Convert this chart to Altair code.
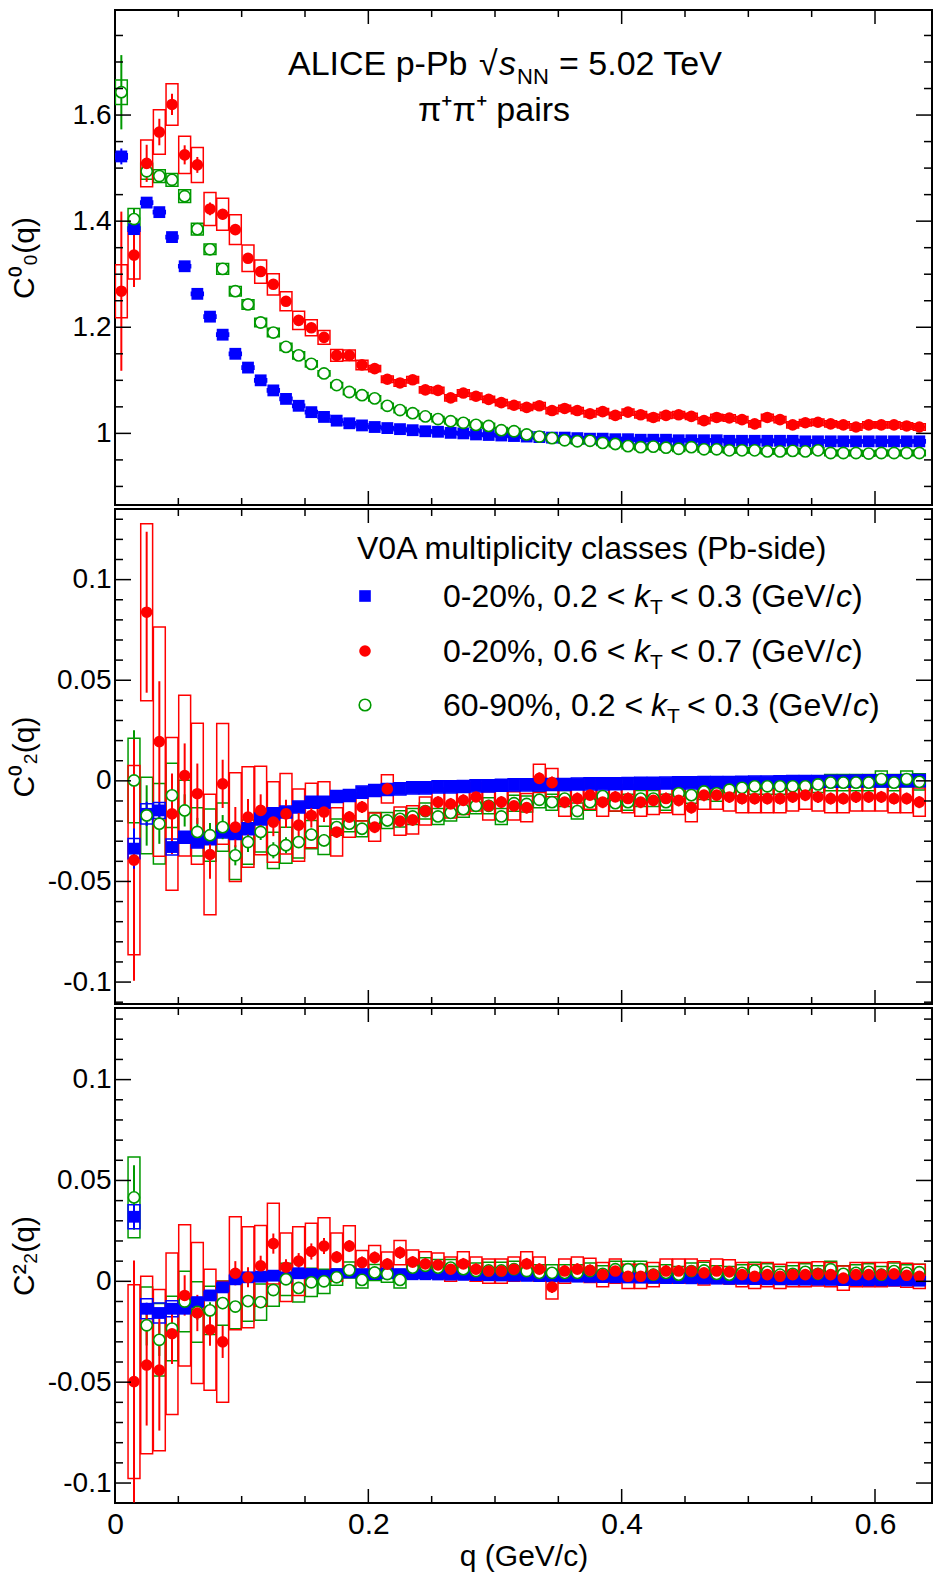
import pandas as pd
import altair as alt

# bin centres (GeV/c); panel 1 starts one bin earlier than panels 2 and 3
Q_ALL = [round(0.005 + 0.01 * k, 3) for k in range(64)]
Q_HI = Q_ALL[1:]

# ---- C00(q) ----
P1_BLUE = [1.522, 1.385, 1.435, 1.417, 1.370, 1.315, 1.263, 1.220, 1.186, 1.150,
           1.124, 1.100, 1.081, 1.065, 1.052, 1.040, 1.031, 1.024, 1.019, 1.015,
           1.012, 1.010, 1.008, 1.006, 1.004, 1.003, 1.001, 1.000, 0.998, 0.997,
           0.996, 0.995, 0.994, 0.993, 0.992, 0.992, 0.991, 0.990, 0.990, 0.989,
           0.989, 0.988, 0.988, 0.988, 0.987, 0.987, 0.987, 0.987, 0.986, 0.986,
           0.986, 0.986, 0.986, 0.986, 0.985, 0.985, 0.985, 0.985, 0.985, 0.985,
           0.985, 0.985, 0.985, 0.985]
P1_RED = [1.268, 1.336, 1.509, 1.568, 1.620, 1.525, 1.506, 1.423, 1.413, 1.384,
          1.330, 1.305, 1.281, 1.249, 1.213, 1.199, 1.181, 1.147, 1.147, 1.129,
          1.122, 1.102, 1.095, 1.101, 1.082, 1.081, 1.067, 1.076, 1.070, 1.064,
          1.058, 1.053, 1.049, 1.052, 1.043, 1.047, 1.043, 1.037, 1.041, 1.034,
          1.040, 1.035, 1.030, 1.034, 1.035, 1.032, 1.024, 1.030, 1.029, 1.026,
          1.018, 1.030, 1.026, 1.016, 1.020, 1.021, 1.018, 1.016, 1.012, 1.016,
          1.016, 1.016, 1.014, 1.012]
P1_GREEN = [1.643, 1.404, 1.494, 1.485, 1.478, 1.447, 1.385, 1.347, 1.310, 1.268,
            1.243, 1.209, 1.190, 1.163, 1.147, 1.131, 1.113, 1.091, 1.078, 1.072,
            1.066, 1.052, 1.044, 1.038, 1.032, 1.027, 1.023, 1.020, 1.016, 1.014,
            1.006, 1.004, 0.998, 0.994, 0.991, 0.987, 0.985, 0.986, 0.982, 0.980,
            0.976, 0.974, 0.975, 0.973, 0.971, 0.974, 0.970, 0.970, 0.968, 0.968,
            0.968, 0.966, 0.966, 0.967, 0.966, 0.968, 0.963, 0.963, 0.963, 0.962,
            0.963, 0.963, 0.963, 0.963]

# ---- C02(q) ----
P2_BLUE = [-0.0337, -0.0164, -0.0147, -0.0329, -0.0280, -0.0304, -0.0287, -0.0254, -0.0262, -0.0238,
           -0.0190, -0.0164, -0.0155, -0.0130, -0.0106, -0.0106, -0.0078, -0.0073, -0.0056, -0.0048,
           -0.0043, -0.0040, -0.0035, -0.0035, -0.0030, -0.0030, -0.0028, -0.0025, -0.0025, -0.0022,
           -0.0020, -0.0020, -0.0020, -0.0018, -0.0018, -0.0016, -0.0015, -0.0015, -0.0014, -0.0013,
           -0.0012, -0.0012, -0.0011, -0.0010, -0.0010, -0.0009, -0.0008, -0.0008, -0.0007, -0.0006,
           -0.0006, -0.0005, -0.0004, -0.0004, -0.0003, -0.0002, -0.0002, -0.0001, 0.0000, 0.0000,
           0.0000, 0.0001, 0.0001]
P2_RED = [-0.0394, 0.0838, 0.0195, -0.0164, 0.0026, -0.0064, -0.0366, -0.0015, -0.0230, -0.0180,
          -0.0147, -0.0205, -0.0164, -0.0220, -0.0172, -0.0155, -0.0254, -0.0180, -0.0130, -0.0230,
          -0.0040, -0.0200, -0.0194, -0.0150, -0.0106, -0.0115, -0.0097, -0.0080, -0.0124, -0.0106,
          -0.0124, -0.0133, 0.0012, -0.0009, -0.0106, -0.0088, -0.0071, -0.0106, -0.0080, -0.0088,
          -0.0106, -0.0097, -0.0088, -0.0097, -0.0133, -0.0071, -0.0071, -0.0080, -0.0088, -0.0088,
          -0.0088, -0.0088, -0.0080, -0.0071, -0.0080, -0.0088, -0.0088, -0.0080, -0.0080, -0.0080,
          -0.0088, -0.0088, -0.0106]
P2_GREEN = [0.0002, -0.0172, -0.0213, -0.0072, -0.0147, -0.0254, -0.0270, -0.0230, -0.0370, -0.0304,
            -0.0254, -0.0345, -0.0320, -0.0304, -0.0267, -0.0296, -0.0230, -0.0213, -0.0238, -0.0197,
            -0.0197, -0.0189, -0.0177, -0.0150, -0.0177, -0.0159, -0.0141, -0.0124, -0.0124, -0.0177,
            -0.0111, -0.0115, -0.0094, -0.0106, -0.0088, -0.0150, -0.0106, -0.0076, -0.0111, -0.0106,
            -0.0088, -0.0088, -0.0106, -0.0062, -0.0071, -0.0053, -0.0062, -0.0044, -0.0035, -0.0027,
            -0.0027, -0.0027, -0.0027, -0.0027, -0.0018, -0.0009, -0.0009, -0.0009, -0.0009, 0.0009,
            -0.0009, 0.0009, -0.0005]

# ---- C22(q) ----
P3_BLUE = [0.0320, -0.0136, -0.0157, -0.0136, -0.0136, -0.0103, -0.0070, -0.0030, 0.0010, 0.0020,
           0.0023, 0.0028, 0.0020, 0.0040, 0.0036, 0.0028, 0.0036, 0.0044, 0.0036, 0.0036,
           0.0040, 0.0036, 0.0035, 0.0035, 0.0034, 0.0033, 0.0032, 0.0031, 0.0030, 0.0029,
           0.0028, 0.0027, 0.0026, 0.0025, 0.0024, 0.0023, 0.0022, 0.0021, 0.0020, 0.0019,
           0.0018, 0.0017, 0.0016, 0.0016, 0.0015, 0.0014, 0.0013, 0.0012, 0.0012, 0.0011,
           0.0010, 0.0010, 0.0009, 0.0008, 0.0008, 0.0007, 0.0006, 0.0006, 0.0005, 0.0005,
           0.0004, 0.0004, 0.0003]
P3_RED = [-0.0497, -0.0415, -0.0440, -0.0260, -0.0070, -0.0157, -0.0240, -0.0300, 0.0040, 0.0020,
          0.0077, 0.0187, 0.0070, 0.0100, 0.0148, 0.0175, 0.0120, 0.0175, 0.0093, 0.0118,
          0.0085, 0.0142, 0.0095, 0.0086, 0.0081, 0.0060, 0.0086, 0.0060, 0.0051, 0.0051,
          0.0060, 0.0086, 0.0060, -0.0028, 0.0051, 0.0060, 0.0054, 0.0033, 0.0051, 0.0025,
          0.0025, 0.0033, 0.0051, 0.0051, 0.0051, 0.0042, 0.0051, 0.0047, 0.0033, 0.0025,
          0.0033, 0.0025, 0.0033, 0.0033, 0.0037, 0.0033, 0.0016, 0.0033, 0.0033, 0.0033,
          0.0037, 0.0030, 0.0025]
P3_GREEN = [0.0416, -0.0218, -0.0290, -0.0234, -0.0100, -0.0152, -0.0144, -0.0108, -0.0125, -0.0098,
            -0.0103, -0.0043, 0.0010, -0.0033, -0.0005, 0.0000, 0.0020, 0.0056, 0.0007, 0.0044,
            0.0036, 0.0007, 0.0068, 0.0077, 0.0068, 0.0068, 0.0060, 0.0051, 0.0054, 0.0054,
            0.0060, 0.0051, 0.0042, 0.0042, 0.0042, 0.0042, 0.0051, 0.0037, 0.0060, 0.0060,
            0.0060, 0.0033, 0.0042, 0.0033, 0.0051, 0.0054, 0.0037, 0.0033, 0.0042, 0.0054,
            0.0047, 0.0033, 0.0037, 0.0047, 0.0037, 0.0060, 0.0037, 0.0042, 0.0047, 0.0033,
            0.0051, 0.0042, 0.0045]

# uncertainties: first bins listed, remaining bins share the last value given
ERR = {
    ('p1', 'blue'): ([0.015, 0.004, 0.003], 0.0015, [0.005, 0.004], 0.003),
    ('p1', 'red'): ([0.15, 0.06, 0.035, 0.025, 0.02, 0.018, 0.015, 0.012, 0.01, 0.01, 0.008, 0.008, 0.007, 0.006, 0.006, 0.005], 0.004,
                    [0.05, 0.045, 0.044, 0.042, 0.039, 0.035, 0.033, 0.031, 0.03, 0.028, 0.025, 0.022, 0.02, 0.018, 0.017, 0.015, 0.013, 0.011, 0.01, 0.009], 0.006),
    ('p1', 'green'): ([0.07, 0.02, 0.01, 0.008, 0.006, 0.005, 0.004], 0.002,
                      [0.023, 0.02, 0.015, 0.012, 0.012, 0.012, 0.011, 0.01, 0.01, 0.009, 0.009, 0.008, 0.008, 0.007, 0.007, 0.006], 0.005),
    ('p2', 'blue'): ([0.01, 0.006, 0.004, 0.003, 0.002], 0.001, [0.005, 0.005, 0.004, 0.004], 0.003),
    ('p2', 'red'): ([0.06, 0.04, 0.03, 0.02, 0.016, 0.015, 0.012, 0.012, 0.01, 0.009, 0.008, 0.007, 0.007, 0.006, 0.006, 0.005], 0.003,
                    [0.047, 0.044, 0.057, 0.038, 0.040, 0.035, 0.030, 0.030, 0.027, 0.025, 0.022, 0.020, 0.020, 0.018, 0.016, 0.015, 0.012, 0.01], 0.007),
    ('p2', 'green'): ([0.025, 0.015, 0.01, 0.009, 0.008, 0.007, 0.006, 0.006, 0.005, 0.005, 0.004, 0.004, 0.004, 0.003, 0.003, 0.003], 0.002,
                      [0.021, 0.019, 0.02, 0.016, 0.015, 0.012, 0.013, 0.012, 0.012, 0.011, 0.010, 0.009, 0.009, 0.008, 0.007, 0.007], 0.004),
    ('p3', 'blue'): ([0.006, 0.003, 0.002], 0.001, [0.006, 0.005, 0.005, 0.004], 0.002),
    ('p3', 'red'): ([0.06, 0.03, 0.03, 0.015, 0.01, 0.009, 0.008, 0.008, 0.006, 0.005, 0.005, 0.005, 0.004, 0.004, 0.004, 0.004], 0.003,
                    [0.048, 0.044, 0.04, 0.04, 0.035, 0.035, 0.03, 0.03, 0.028, 0.025, 0.02, 0.02, 0.017, 0.017, 0.014, 0.014, 0.012, 0.01], 0.006),
    ('p3', 'green'): ([0.016, 0.01, 0.008, 0.006, 0.005, 0.004, 0.004, 0.003], 0.002,
                      [0.02, 0.019, 0.018, 0.016, 0.015, 0.015, 0.012, 0.011, 0.011, 0.01, 0.009, 0.008, 0.008, 0.007, 0.007, 0.006], 0.004),
}

COLORS = {'blue': '#0000FF', 'red': '#FF0000', 'green': '#009900'}
W, H = 817, 495
X_DOMAIN = [0, 0.645]
X_MAJOR = [0, 0.2, 0.4, 0.6]
X_MINOR = [0.05, 0.1, 0.15, 0.25, 0.3, 0.35, 0.45, 0.5, 0.55]
FONT = 'Liberation Sans'


def fill(head, tail, n):
    return (head + [tail] * n)[:n]


def build(panel, q, series):
    rows = []
    for name in ['green', 'red', 'blue']:
        vals = series[name]
        st_h, st_t, sy_h, sy_t = ERR[(panel, name)]
        st = fill(st_h, st_t, len(vals))
        sy = fill(sy_h, sy_t, len(vals))
        for qi, v, s, y in zip(q, vals, st, sy):
            rows.append(dict(series=name, q=qi, v=v, slo=v - s, shi=v + s,
                             ylo=v - y, yhi=v + y, x1=qi - 0.0047, x2=qi + 0.0047))
    return pd.DataFrame(rows)


def text(s, x, y, size=30, italic=False, align='left'):
    return alt.Chart(pd.DataFrame({'a': [0]})).mark_text(
        align=align, baseline='alphabetic', fontSize=size, font=FONT,
        fontStyle='italic' if italic else 'normal', color='black'
    ).encode(x=alt.value(x), y=alt.value(y), text=alt.value(s))


def panel(df, ydomain, ymajor, yminor, ytitle, show_x, extra):
    xs = alt.Scale(domain=X_DOMAIN, nice=False, zero=False)
    ys = alt.Scale(domain=ydomain, nice=False, zero=False)
    cs = alt.Scale(domain=list(COLORS.keys()), range=list(COLORS.values()))
    if show_x:
        xaxis = alt.Axis(values=X_MAJOR, labelExpr='toString(datum.value)', ticks=False, domain=False,
                         grid=False, labelFontSize=30, labelFont=FONT, labelColor='black', labelPadding=6,
                         title='q (GeV/c)', titleFontSize=30, titleFont=FONT, titleFontWeight='normal',
                         titleColor='black', titlePadding=2, labelFlush=False)
    else:
        xaxis = None
    yaxis = alt.Axis(values=ymajor, labelExpr='toString(datum.value)', ticks=False, domain=False, grid=False,
                     labelFontSize=28, labelFont=FONT, labelColor='black', labelPadding=4,
                     minExtent=68, maxExtent=68, title=ytitle, titleFontSize=30, titleFont=FONT,
                     titleFontWeight='normal', titleColor='black', titlePadding=8)

    def X(f):
        return alt.X(f, scale=xs, axis=xaxis)

    def Y(f):
        return alt.Y(f, scale=ys, axis=yaxis)

    col = alt.Color('series:N', scale=cs, legend=None)
    boxes = alt.Chart(df).mark_rect(filled=False, strokeWidth=1.5, clip=True).encode(
        x=X('x1:Q'), x2='x2:Q', y=Y('ylo:Q'), y2='yhi:Q', color=col)
    bars = alt.Chart(df).mark_rule(strokeWidth=2, clip=True).encode(
        x=X('q:Q'), y=Y('slo:Q'), y2='shi:Q', color=col)
    blue = alt.Chart(df[df.series == 'blue']).mark_point(
        shape='square', filled=True, size=140, color=COLORS['blue'], opacity=1, clip=True).encode(
        x=X('q:Q'), y=Y('v:Q'))
    green = alt.Chart(df[df.series == 'green']).mark_point(
        shape='circle', filled=True, fill='white', stroke=COLORS['green'], size=125, strokeWidth=1.6,
        opacity=1, clip=True).encode(x=X('q:Q'), y=Y('v:Q'))
    red = alt.Chart(df[df.series == 'red']).mark_point(
        shape='circle', filled=True, size=135, color=COLORS['red'], opacity=1, clip=True).encode(
        x=X('q:Q'), y=Y('v:Q'))

    def ticks(vals, orient, length):
        d = pd.DataFrame({'t': vals})
        base = alt.Chart(d).mark_rule(color='black', strokeWidth=1.5)
        if orient == 'left':
            return base.encode(y=Y('t:Q'), x=alt.value(0), x2=alt.value(length))
        if orient == 'right':
            return base.encode(y=Y('t:Q'), x=alt.value(W), x2=alt.value(W - length))
        if orient == 'bottom':
            return base.encode(x=X('t:Q'), y=alt.value(H), y2=alt.value(H - length))
        return base.encode(x=X('t:Q'), y=alt.value(0), y2=alt.value(length))

    tk = [ticks(ymajor, 'left', 16), ticks(yminor, 'left', 8),
          ticks(ymajor, 'right', 16), ticks(yminor, 'right', 8),
          ticks(X_MAJOR[1:], 'bottom', 14), ticks(X_MINOR, 'bottom', 7),
          ticks(X_MAJOR[1:], 'top', 14), ticks(X_MINOR, 'top', 7)]
    return alt.layer(boxes, bars, blue, green, red, *tk, *extra).properties(width=W, height=H)


df1 = build('p1', Q_ALL, {'blue': P1_BLUE, 'red': P1_RED, 'green': P1_GREEN})
df2 = build('p2', Q_HI, {'blue': P2_BLUE, 'red': P2_RED, 'green': P2_GREEN})
df3 = build('p3', Q_HI, {'blue': P3_BLUE, 'red': P3_RED, 'green': P3_GREEN})

title_layers = [
    text('ALICE p-Pb', 173, 65, 34),
    text('√', 364, 65, 34),
    text('s', 384, 65, 34, italic=True),
    text('NN', 402, 74, 22),
    text('= 5.02 TeV', 444, 65, 34),
    text('π⁺π⁺ pairs', 379, 111, 34, align='center'),
]

leg_rows = [('blue', '0-20%, 0.2 <', 519, '< 0.3 (GeV/', 87),
            ('red', '0-20%, 0.6 <', 519, '< 0.7 (GeV/', 142),
            ('green', '60-90%, 0.2 <', 536, '< 0.3 (GeV/', 196)]
legend_layers = [text('V0A multiplicity classes (Pb-side)', 242, 50, 32)]
for name, a, xk, b, ym in leg_rows:
    if name == 'blue':
        shape_kw = dict(shape='square', filled=True, color=COLORS[name])
    elif name == 'red':
        shape_kw = dict(shape='circle', filled=True, color=COLORS[name])
    else:
        shape_kw = dict(shape='circle', filled=True, fill='white', stroke=COLORS[name], strokeWidth=1.6)
    legend_layers.append(alt.Chart(pd.DataFrame({'a': [0]})).mark_point(
        size=135, opacity=1, **shape_kw).encode(x=alt.value(250), y=alt.value(ym)))
    yb = ym + 11
    legend_layers += [text(a, 328, yb, 32), text('k', xk, yb, 32, italic=True),
                      text('T', xk + 16, yb + 7, 21), text(b, xk + 36, yb, 32),
                      text('c', xk + 36 + 166, yb, 32, italic=True), text(')', xk + 36 + 182, yb, 32)]

P1_MINOR = [0.9, 0.95, 1.05, 1.1, 1.15, 1.25, 1.3, 1.35, 1.45, 1.5, 1.55, 1.65, 1.7, 1.75]
P23_MINOR = [-0.11, -0.09, -0.08, -0.07, -0.06, -0.04, -0.03, -0.02, -0.01,
             0.01, 0.02, 0.03, 0.04, 0.06, 0.07, 0.08, 0.09, 0.11, 0.12, 0.13]

top = panel(df1, [0.865, 1.798], [1, 1.2, 1.4, 1.6], P1_MINOR, 'C⁰₀(q)', False, title_layers)
mid = panel(df2, [-0.1109, 0.1351], [-0.1, -0.05, 0, 0.05, 0.1], [m for m in P23_MINOR if -0.1109 < m < 0.1351],
            'C⁰₂(q)', False, legend_layers)
bot = panel(df3, [-0.1099, 0.1355], [-0.1, -0.05, 0, 0.05, 0.1], [m for m in P23_MINOR if -0.1099 < m < 0.1355],
            'C²₂(q)', True, [])

chart = alt.vconcat(top, mid, bot, spacing=0).properties(padding=0).configure(
    font=FONT).configure_view(stroke='black', strokeWidth=2)

chart.save('out.html', embed_options={'renderer': 'svg', 'actions': False})
